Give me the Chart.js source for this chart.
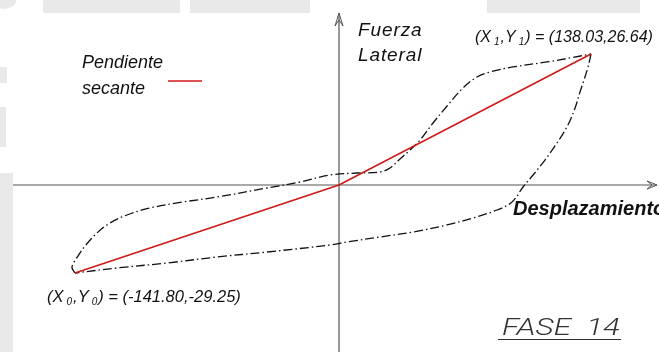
<!DOCTYPE html>
<html>
<head>
<meta charset="utf-8">
<script src="https://cdn.jsdelivr.net/npm/chart.js@4.4.1/dist/chart.umd.min.js"></script>
<style>
  html, body { margin: 0; padding: 0; background: #fff; }
  #wrap { position: relative; width: 659px; height: 352px; }
</style>
</head>
<body>
<div id="wrap"><canvas id="c"></canvas></div>
<script>
// Hysteresis loop, phase 14: lateral force vs. displacement
const descX = [138.03, 136.4, 134.2, 132.0, 129.3, 125.4, 119.4, 112.8, 106.3, 100.8, 94.8, 86.5, 73.4, 59.2, 40.5, 22.5, 4.4, -4.8, -38.7, -65.5, -92.4, -119.2, -141.80];
const descY = [26.64, 24.0, 21.35, 18.9, 15.66, 12.2, 8.54, 5.08, 2.03, -0.66, -5.65, -8.31, -10.97, -13.29, -15.62, -17.28, -18.94, -19.94, -22.27, -23.93, -25.92, -27.58, -29.25];
const ascX = [-141.80, -143.4, -142.9, -140.2, -136.4, -130.0, -123.0, -113.9, -101.5, -83.8, -65.5, -38.7, -20.9, -4.8, 9.9, 22.5, 27.9, 33.4, 38.9, 44.4, 51.5, 59.2, 67.9, 75.6, 82.7, 95.3, 113.9, 126.5, 138.03];
const ascY = [-29.25, -27.58, -26.25, -23.6, -20.27, -15.95, -12.63, -9.97, -7.64, -5.65, -3.99, -1.0, 0.61, 2.03, 2.44, 2.64, 3.46, 5.29, 7.12, 9.15, 12.61, 16.07, 19.73, 21.96, 22.98, 24.0, 25.02, 25.83, 26.64];
// Secant slope through the origin, from (X0,Y0) to (X1,Y1)
const secantX = [-141.80, 0, 138.03];
const secantY = [-29.25, 0, 26.64];

const axisTitles = { y: ['Fuerza', 'Lateral'], x: 'Desplazamiento' };
const legendText = ['Pendiente', 'secante'];
const phaseText = 'FASE  14';

const pts = (xs, ys) => xs.map((x, i) => ({ x, y: ys[i] }));

// Schematic axis: each side of zero has its own linear scale
class SplitScale extends Chart.LinearScale {
  getPixelForValue(value) {
    const o = this.options, z = o.origin;
    const d = value >= 0 ? z + (1 - z) * value / o.max : z * (1 - value / o.min);
    return this.getPixelForDecimal(d);
  }
  getValueForPixel(pixel) {
    const o = this.options, z = o.origin;
    const d = this.getDecimalForPixel(pixel);
    return d >= z ? (d - z) / (1 - z) * o.max : (1 - d / z) * o.min;
  }
}
SplitScale.id = 'split';
SplitScale.defaults = Chart.LinearScale.defaults;
Chart.register(SplitScale);

const sansI = (size, weight) => `italic ${weight || 'normal'} ${size}px "Liberation Sans", Arial, sans-serif`;

function labelParts(sub, x, y) {
  return [['(X', 0], [sub, 1], [',Y', 0], [sub, 1], [') = (' + x.toFixed(2) + ',' + y.toFixed(2) + ')', 0]];
}
function drawParts(ctx, parts, x, y, size) {
  for (const [t, s] of parts) {
    if (s) {
      x += 3;
      ctx.font = sansI(Math.round(size * 0.62), 'normal');
      ctx.fillText(t, x, y + 3);
      x += ctx.measureText(t).width + 1;
    } else {
      ctx.font = sansI(size, 'normal');
      ctx.fillText(t, x, y);
      x += ctx.measureText(t).width;
    }
  }
}

const decor = {
  id: 'decor',
  beforeDraw(chart) {
    const ctx = chart.ctx;
    ctx.save();
    ctx.fillStyle = '#ffffff';
    ctx.fillRect(0, 0, chart.width, chart.height);
    // faint page background behind the figure
    ctx.fillStyle = '#e9e9e9';
    [[43, 0, 137, 13], [190, 0, 120, 13], [487, 0, 153, 13], [0, 173, 13, 179], [0, 67, 7, 16], [0, 107, 6, 40]]
      .forEach(r => ctx.fillRect(...r));
    ctx.beginPath();
    ctx.ellipse(4, 0, 12, 9, 0, 0, Math.PI * 2);
    ctx.fill();
    ctx.restore();
  },
  beforeDatasetsDraw(chart) {
    const ctx = chart.ctx, sx = chart.scales.x, sy = chart.scales.y;
    const x0 = sx.getPixelForValue(0), y0 = sy.getPixelForValue(0);
    ctx.save();
    ctx.strokeStyle = '#555';
    ctx.lineWidth = 1.2;
    ctx.beginPath();
    ctx.moveTo(13, y0); ctx.lineTo(657, y0);
    ctx.moveTo(x0, 352); ctx.lineTo(x0, 13);
    ctx.stroke();
    // arrow heads
    ctx.lineWidth = 1;
    ctx.beginPath();
    ctx.moveTo(x0, 13); ctx.lineTo(x0 - 4, 26); ctx.lineTo(x0, 20); ctx.lineTo(x0 + 4, 26); ctx.closePath();
    ctx.moveTo(657, y0); ctx.lineTo(647, y0 - 4); ctx.lineTo(652, y0); ctx.lineTo(647, y0 + 4); ctx.closePath();
    ctx.stroke();
    ctx.restore();
  },
  afterDatasetsDraw(chart) {
    const ctx = chart.ctx, sx = chart.scales.x, sy = chart.scales.y;
    const x0 = sx.getPixelForValue(0), y0 = sy.getPixelForValue(0);
    ctx.save();
    ctx.fillStyle = '#111';
    ctx.textBaseline = 'alphabetic';
    ctx.font = sansI(19);
    ctx.letterSpacing = '0.9px';
    ctx.fillText(axisTitles.y[0], x0 + 19, 36);
    ctx.fillText(axisTitles.y[1], x0 + 19, 61);
    ctx.letterSpacing = '0px';
    ctx.font = sansI(20, 'bold');
    ctx.fillText(axisTitles.x, 513, y0 + 30);
    ctx.font = sansI(18);
    ctx.fillText(legendText[0], 82, 68);
    ctx.fillText(legendText[1], 82, 94);
    const sec = chart.data.datasets[0];
    ctx.strokeStyle = sec.borderColor;
    ctx.lineWidth = 1.6;
    ctx.beginPath(); ctx.moveTo(168, 81); ctx.lineTo(202, 81); ctx.stroke();

    // end-point labels
    const n = secantX.length - 1;
    const p1x = sx.getPixelForValue(secantX[n]), p1y = sy.getPixelForValue(secantY[n]);
    const p0x = sx.getPixelForValue(secantX[0]), p0y = sy.getPixelForValue(secantY[0]);
    drawParts(ctx, labelParts('1', secantX[n], secantY[n]), p1x - 116, p1y - 12, 16);
    drawParts(ctx, labelParts('0', secantX[0], secantY[0]), p0x - 28, p0y + 29, 16.5);

    // phase tag
    ctx.fillStyle = '#333';
    ctx.font = 'italic 300 23px "Roboto", "DejaVu Sans", sans-serif';
    const w = ctx.measureText(phaseText).width;
    ctx.save();
    ctx.translate(502, 335);
    ctx.scale(118 / w, 1);
    ctx.fillText(phaseText, 0, 0);
    ctx.restore();
    ctx.strokeStyle = '#333';
    ctx.lineWidth = 1;
    ctx.beginPath(); ctx.moveTo(498, 339.5); ctx.lineTo(621, 339.5); ctx.stroke();
    ctx.restore();
  }
};

const loopStyle = { borderColor: '#111', borderWidth: 1.3, borderDash: [9, 3, 1.5, 3], pointRadius: 0, tension: 0.35, fill: false };

new Chart(document.getElementById('c'), {
  type: 'line',
  data: {
    datasets: [
      { label: 'Pendiente secante', data: pts(secantX, secantY), borderColor: '#d01818', borderWidth: 1.6, pointRadius: 0, tension: 0 },
      Object.assign({ label: 'descarga', data: pts(descX, descY) }, loopStyle),
      Object.assign({ label: 'carga', data: pts(ascX, ascY) }, loopStyle)
    ]
  },
  options: {
    responsive: true,
    maintainAspectRatio: false,
    animation: false,
    layout: { padding: 0 },
    events: [],
    scales: {
      x: { type: 'split', display: false, bounds: 'data', min: -182.08, max: 175.28, origin: 339 / 659 },
      y: { type: 'split', display: false, bounds: 'data', min: -55.50, max: 37.62, origin: 167 / 352 }
    },
    plugins: { legend: { display: false }, tooltip: { enabled: false } }
  },
  plugins: [decor]
});
</script>
</body>
</html>
